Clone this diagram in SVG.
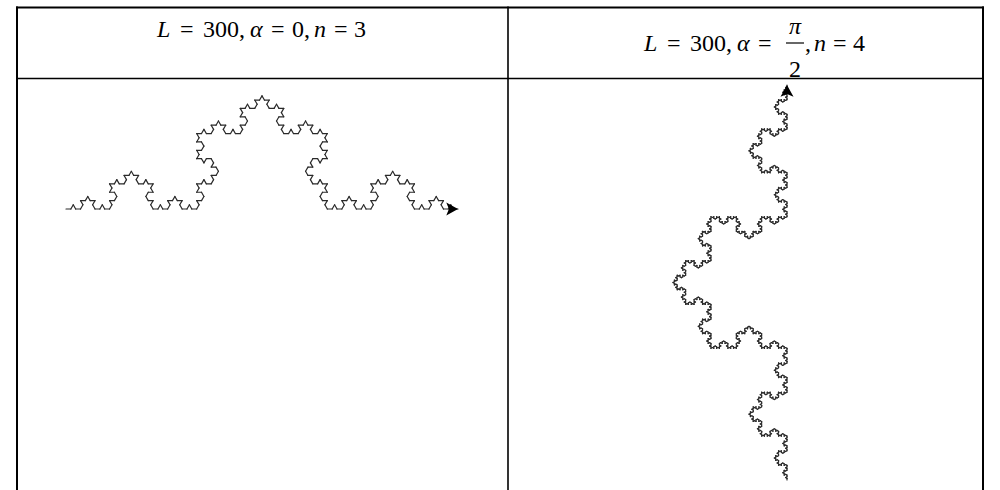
<svg xmlns="http://www.w3.org/2000/svg" width="1000" height="490" viewBox="0 0 1000 490">
<style>
.grid{stroke:#000;fill:none}
.seg{stroke:#2a2a2a;stroke-width:1.2;stroke-linecap:round;fill:none;vector-effect:non-scaling-stroke}
.hdr{font-family:"Liberation Serif",serif;font-size:24px;fill:#000}
.it{font-style:italic}
.arrow{fill:#000}
</style>
<defs>
<path id="k0" class="seg" d="M0 0H1"/>
<g id="k1"><use href="#k0"/><use href="#k0" transform="translate(1 0) rotate(-60)"/><use href="#k0" transform="translate(1.5 -0.8660254) rotate(60)"/><use href="#k0" transform="translate(2 0)"/></g>
<g id="k2"><use href="#k1"/><use href="#k1" transform="translate(3 0) rotate(-60)"/><use href="#k1" transform="translate(4.5 -2.5980762) rotate(60)"/><use href="#k1" transform="translate(6 0)"/></g>
<g id="k3"><use href="#k2"/><use href="#k2" transform="translate(9 0) rotate(-60)"/><use href="#k2" transform="translate(13.5 -7.7942286) rotate(60)"/><use href="#k2" transform="translate(18 0)"/></g>
<g id="k4"><use href="#k3"/><use href="#k3" transform="translate(27 0) rotate(-60)"/><use href="#k3" transform="translate(40.5 -23.3826859) rotate(60)"/><use href="#k3" transform="translate(54 0)"/></g>
<g id="k5"><use href="#k4"/><use href="#k4" transform="translate(81 0) rotate(-60)"/><use href="#k4" transform="translate(121.5 -70.1480577) rotate(60)"/><use href="#k4" transform="translate(162 0)"/></g>
<path id="turtle" class="arrow" d="M0 0L-11.7 -6.5L-9.1 0L-11.7 6.5Z"/>
</defs>
<rect width="1000" height="490" fill="#fff"/>
<g id="table">
<line class="grid" x1="16" y1="7.5" x2="984" y2="7.5" stroke-width="2.2"/>
<line class="grid" x1="17" y1="6.5" x2="17" y2="490" stroke-width="2"/>
<line class="grid" x1="508" y1="6.5" x2="508" y2="490" stroke-width="1.6"/>
<line class="grid" x1="983" y1="6.5" x2="983" y2="490" stroke-width="2"/>
<line class="grid" x1="16" y1="78.5" x2="984" y2="78.5" stroke-width="1.3"/>
</g>
<g id="header-left">
<text class="hdr"><tspan class="it" x="157" y="37">L</tspan><tspan x="180" y="37">=</tspan><tspan x="203" y="37">300,</tspan><tspan class="it" x="250" y="37">α</tspan><tspan x="271" y="37">=</tspan><tspan x="292" y="37">0,</tspan><tspan class="it" x="314" y="37">n</tspan><tspan x="334" y="37">=</tspan><tspan x="354" y="37">3</tspan></text>
</g>
<g id="header-right">
<text class="hdr"><tspan class="it" x="644" y="51">L</tspan><tspan x="667" y="51">=</tspan><tspan x="690" y="51">300,</tspan><tspan class="it" x="737" y="51">α</tspan><tspan x="758" y="51">=</tspan><tspan x="805" y="51">,</tspan><tspan class="it" x="814" y="51">n</tspan><tspan x="833" y="51">=</tspan><tspan x="853" y="51">4</tspan></text>
<text class="hdr it" x="795" y="34" text-anchor="middle">π</text>
<line class="grid" x1="786" y1="43" x2="804" y2="43" stroke-width="1.2"/>
<text class="hdr" x="795" y="77" text-anchor="middle">2</text>
</g>
<g id="curve-left">
<use href="#k4" transform="translate(66 209) scale(4.8395062)"/>
<use href="#turtle" transform="translate(458 209)"/>
</g>
<g id="curve-right">
<use href="#k5" transform="translate(787 480) rotate(-90) scale(1.6255144)"/>
<use href="#turtle" transform="translate(787 85) rotate(-90)"/>
</g>
</svg>
